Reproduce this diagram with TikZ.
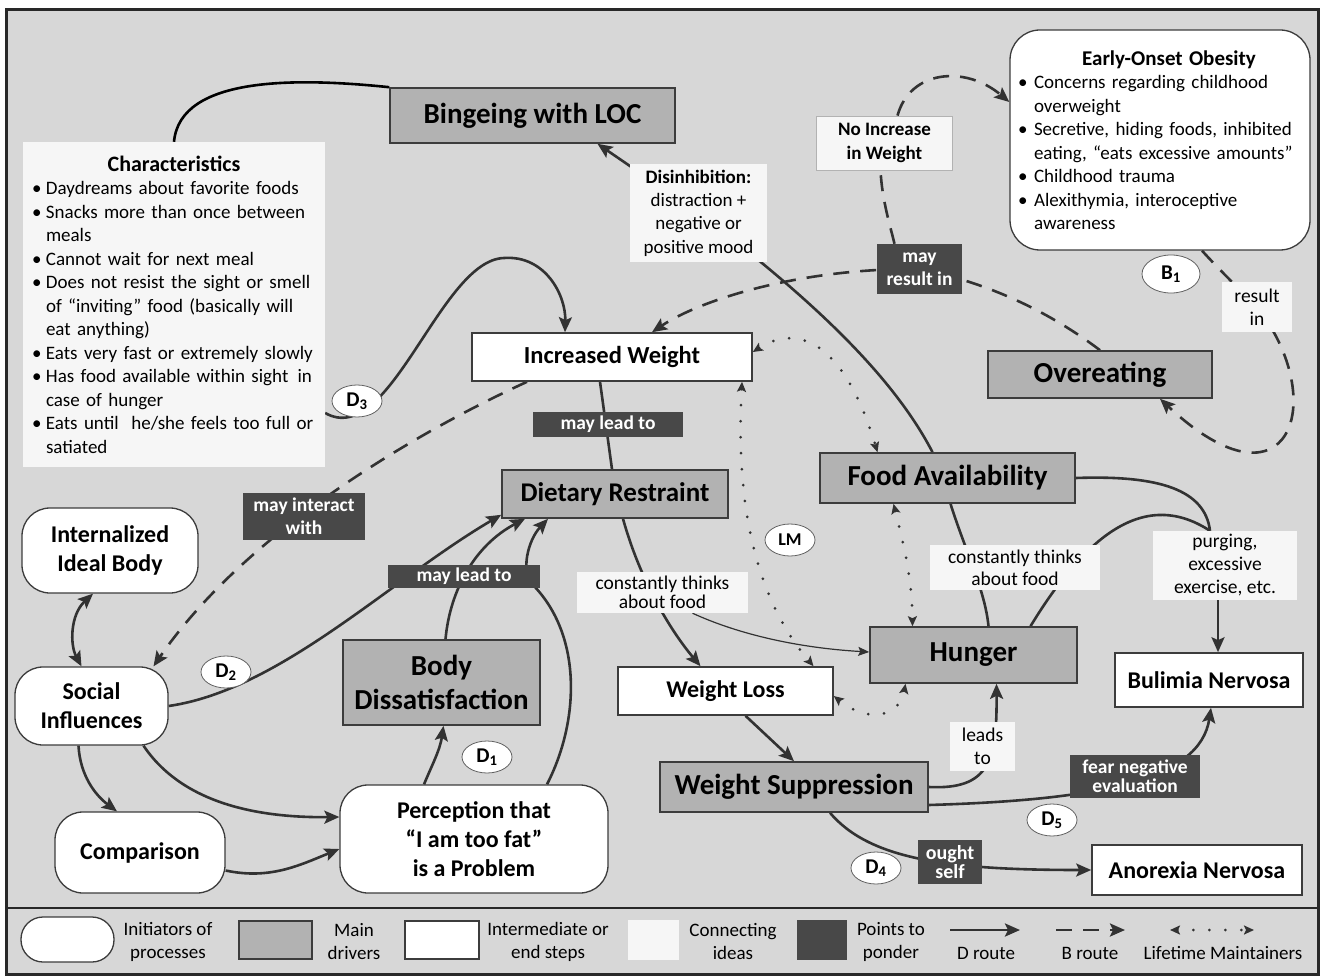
\documentclass[tikz,border=0pt]{standalone}
\usepackage{fontspec}
\setmainfont{Carlito}
\usetikzlibrary{arrows.meta,shapes.geometric}
\pgfdeclarelayer{back}
\pgfdeclarelayer{edges}
\pgfsetlayers{back,edges,main}
\definecolor{bgc}{RGB}{215,215,215}
\definecolor{mainc}{RGB}{178,178,178}
\definecolor{pondc}{RGB}{72,72,72}
\definecolor{edgec}{RGB}{60,60,60}
\definecolor{linec}{RGB}{50,50,50}
\definecolor{connc}{RGB}{246,246,246}
\definecolor{framec}{RGB}{40,40,40}
\newcommand{\bitem}[2][14pt]{\par\noindent\hangindent=#1\hangafter=1\makebox[#1][l]{\textbullet}#2}
\tikzset{
 base/.style={inner sep=0pt, align=center, text=black},
 mainbox/.style={base, draw=edgec, line width=1.6pt, fill=mainc, font=\fontsize{29}{34}\selectfont\bfseries},
 interbox/.style={base, draw=edgec, line width=1.6pt, fill=white, font=\fontsize{24}{28}\selectfont\bfseries},
 initbox/.style={base, draw=edgec, line width=1.3pt, fill=white, rounded corners=28pt, font=\fontsize{24}{29}\selectfont\bfseries},
 connbox/.style={base, fill=connc, font=\fontsize{19.5}{23}\selectfont},
 pondbox/.style={base, fill=pondc, text=white, font=\fontsize{19.5}{23}\selectfont\bfseries},
 dbadge/.style={ellipse, draw=gray!75!black, line width=0.8pt, fill=white, inner sep=0pt, minimum width=50pt, minimum height=32pt, font=\fontsize{21}{22}\selectfont\bfseries},
 legtext/.style={base, font=\fontsize{19}{23}\selectfont},
 bulletbox/.style={inner ysep=0pt, font=\fontsize{19}{23.5}\selectfont},
 plainline/.style={draw=linec, line width=2.6pt},
 droute/.style={plainline, -{Stealth[length=15pt,width=13pt,inset=3pt]}},
 broute/.style={plainline, dash pattern=on 16pt off 11pt, -{Stealth[length=15pt,width=13pt,inset=3pt]}},
 lmroute/.style={draw=linec, line width=3pt, line cap=round, dash pattern=on 0pt off 16pt, {Stealth[length=10pt,width=9pt,inset=2pt]}-{Stealth[length=10pt,width=9pt,inset=2pt]}},
 thinarrow/.style={draw=linec, line width=1.2pt, -{Stealth[length=11pt,width=9pt,inset=2pt]}},
}
\begin{document}
\begin{tikzpicture}[x=1pt,y=-1pt]
\useasboundingbox (0,0) rectangle (1322,976);
\begin{pgfonlayer}{back}
\fill[white] (0,0) rectangle (1322,976);
\draw[framec, line width=3pt, fill=bgc] (6,10) rectangle (1318,974);
\draw[framec, line width=2pt] (6,908) -- (1318,908);
\end{pgfonlayer}

% ---------- nodes ----------
\node[mainbox, minimum width=285pt, minimum height=55pt] (bing) at (532.5,115.5) {Bingeing with LOC};
\node[bulletbox, fill=connc, inner xsep=9pt, text width=284pt, minimum height=325pt] (char) at (174,304.5) {\raggedright
{\centering\bfseries\fontsize{22}{23.5}\selectfont Characteristics\par}
\bitem{Daydreams about favorite foods}
\bitem{Snacks more than once between\newline meals}
\bitem{Cannot wait for next meal}
\bitem{Does not resist the sight or smell\newline of “inviting” food (basically will\newline eat anything)}
\bitem{Eats very fast or extremely slowly}
\bitem{Has food available within sight\hspace{0.15em} in\newline case of hunger}
\bitem{Eats until\ \ he/she feels too full or\newline satiated}\par};
\node[connbox, minimum width=137pt, minimum height=98pt, font=\fontsize{19}{23.3}\selectfont] (dis) at (698.5,213) {\textbf{Disinhibition:}\\distraction +\\negative or\\positive mood};
\node[base, draw=gray!60, line width=0.8pt, fill=connc, minimum width=136pt, minimum height=54pt, font=\fontsize{19}{23.5}\selectfont\bfseries] (noinc) at (884.5,143) {No Increase\\in Weight};
\node[bulletbox, draw=edgec, line width=1.3pt, fill=white, rounded corners=30pt, inner xsep=8pt, text width=284pt, minimum height=220pt] (eoo) at (1160,140) {\raggedright
{\centering\bfseries\fontsize{21}{23.5}\selectfont\hspace*{18pt}Early-Onset Obesity\par}
\bitem[16pt]{Concerns regarding childhood\newline overweight}
\bitem[16pt]{Secretive, hiding foods, inhibited\newline eating, “eats excessive amounts”}
\bitem[16pt]{Childhood trauma}
\bitem[16pt]{Alexithymia, interoceptive\newline awareness}\par};
\node[pondbox, minimum width=85pt, minimum height=50pt] (mri) at (919.5,269) {may\\result in};
\node[dbadge, minimum width=58pt, minimum height=38pt] (b1) at (1171,274) {B\textsubscript{1}};
\node[connbox, minimum width=70pt, minimum height=50pt] (resin) at (1257,307) {result\\in};
\node[mainbox, minimum width=224pt, minimum height=47pt] (over) at (1100,374.5) {Overeating};
\node[interbox, minimum width=280pt, minimum height=48pt, font=\fontsize{24.5}{28}\selectfont\bfseries] (iw) at (612,357) {Increased Weight};
\node[dbadge] (d3) at (357,401) {D\textsubscript{3}};
\node[pondbox, minimum width=150pt, minimum height=25pt] (mlt1) at (608,424.5) {may lead to};
\node[mainbox, minimum width=226pt, minimum height=48pt, font=\fontsize{27}{30}\selectfont\bfseries] (dr) at (615,494) {Dietary Restraint};
\node[pondbox, minimum width=122pt, minimum height=47pt] (mix) at (304,516.5) {may interact\\with};
\node[initbox, minimum width=176pt, minimum height=85pt] (ideal) at (110,550.5) {Internalized\\Ideal Body};
\node[initbox, minimum width=153pt, minimum height=78pt] (social) at (91.5,706) {Social\\Influences};
\node[initbox, minimum width=170pt, minimum height=81pt] (comp) at (140,852.5) {Comparison};
\node[initbox, minimum width=268pt, minimum height=108pt] (perc) at (474,839) {Perception that\\“I am too fat”\\is a Problem};
\node[mainbox, minimum width=197pt, minimum height=85pt] (body) at (441.5,682.5) {Body\\Dissatisfaction};
\node[dbadge] (d2) at (226,672) {D\textsubscript{2}};
\node[dbadge] (d1) at (487,757) {D\textsubscript{1}};
\node[pondbox, minimum width=152pt, minimum height=23pt] (mlt2) at (464,576.5) {may lead to};
\node[connbox, minimum width=171pt, minimum height=41pt, font=\fontsize{19.5}{19.5}\selectfont] (ctl) at (662.5,592.5) {constantly thinks\\about food};
\node[interbox, minimum width=215pt, minimum height=48pt] (wl) at (725.5,691) {Weight Loss};
\node[mainbox, minimum width=268pt, minimum height=50pt] (ws) at (794,787) {Weight Suppression};
\node[mainbox, minimum width=207pt, minimum height=56pt] (hun) at (973.5,655) {Hunger};
\node[connbox, minimum width=65pt, minimum height=49pt] (leads) at (982.5,746.5) {leads\\to};
\node[mainbox, minimum width=255pt, minimum height=50pt] (fa) at (947.5,478) {Food Availability};
\node[connbox, minimum width=170pt, minimum height=45pt, font=\fontsize{19.5}{22}\selectfont] (ctr) at (1015,567.5) {constantly thinks\\about food};
\node[connbox, minimum width=144pt, minimum height=69pt] (purg) at (1225,565.5) {purging,\\excessive\\exercise, etc.};
\node[interbox, minimum width=188pt, minimum height=54pt] (bn) at (1209,680) {Bulimia Nervosa};
\node[pondbox, minimum width=130pt, minimum height=43pt, font=\fontsize{19.5}{19}\selectfont\bfseries] (fear) at (1135,776.5) {fear negative\\evaluation};
\node[dbadge] (d5) at (1052,820) {D\textsubscript{5}};
\node[pondbox, minimum width=64pt, minimum height=44pt, font=\fontsize{20}{19.5}\selectfont\bfseries] (ought) at (950,862) {ought\\self};
\node[dbadge] (d4) at (876,868) {D\textsubscript{4}};
\node[interbox, minimum width=210pt, minimum height=50pt] (an) at (1197,870) {Anorexia Nervosa};
\node[dbadge, font=\fontsize{18}{20}\selectfont\bfseries] (lm) at (790,540) {LM};

% ---------- legend ----------
\node[initbox, rounded corners=22pt, minimum width=93pt, minimum height=45pt] (lg1) at (67.5,939.5) {};
\node[legtext] (lt1) at (168,941.5) {Initiators of\\processes};
\node[mainbox, minimum width=73pt, minimum height=38pt] (lg2) at (275.5,940) {};
\node[legtext] (lt2) at (354,941.5) {Main\\drivers};
\node[interbox, minimum width=74pt, minimum height=38pt] (lg3) at (442,940) {};
\node[legtext] (lt3) at (548,941.5) {Intermediate or\\end steps};
\node[connbox, minimum width=51pt, minimum height=40pt] (lg4) at (653.5,940) {};
\node[legtext] (lt4) at (733,941.5) {Connecting\\ideas};
\node[pondbox, minimum width=50pt, minimum height=40pt] (lg5) at (822,940) {};
\node[legtext] (lt5) at (891,941.5) {Points to\\ponder};
\coordinate (la1) at (950,930); \coordinate (la2) at (1020,930);
\node[legtext] (lt6) at (986,953) {D route};
\coordinate (lb1) at (1056,930); \coordinate (lb2) at (1125,930);
\node[legtext] (lt7) at (1090,953) {B route};
\coordinate (lc1) at (1170,930); \coordinate (lc2) at (1254,930);
\node[legtext] (lt8) at (1223,953) {Lifetime Maintainers};

\coordinate (d3top) at (504,258);
\coordinate (pdr) at (533,585);

% ---------- connectors ----------
\begin{pgfonlayer}{edges}
\draw[plainline, draw=black] (char.north) .. controls (180,75) and (300,78) .. (bing.north west);
\draw[droute] ([xshift=-15pt]fa.north) .. controls (890,370) and (800,290) .. (dis.center) -- ([xshift=65pt]bing.south);
% B route
\draw[broute] (over.north) .. controls (1060,320) and (1000,285) .. (mri.center) .. controls (800,268) and (700,300) .. ([xshift=40pt]iw.north);
\draw[broute, -] ([xshift=-25pt]mri.north) .. controls (890,225) and (882,200) .. ([xshift=-4pt]noinc.south);
\draw[broute] ([xshift=13pt]noinc.north) .. controls (910,70) and (965,65) .. ([yshift=38pt]eoo.west);
\draw[broute, -] ([xshift=42pt]eoo.south) .. controls (1215,265) and (1225,275) .. (resin.center);
\draw[broute] (resin.center) .. controls (1330,400) and (1290,520) .. ([xshift=60pt]over.south);
% D3
\draw[droute] ([yshift=-108.5pt]char.east) .. controls (390,450) and (440,260) .. (d3top) .. controls (545,255) and (566,295) .. ([xshift=-47pt]iw.north);
\draw[plainline] ([xshift=-12pt]iw.south) -- ([xshift=-3pt]dr.north);
\draw[broute] ([xshift=-85pt]iw.south) .. controls (400,440) and (240,540) .. ([xshift=62pt]social.north);
% initiators
\draw[droute, {Stealth[length=15pt,width=13pt,inset=3pt]}-{Stealth[length=15pt,width=13pt,inset=3pt]}] ([xshift=-17pt]ideal.south) .. controls (70,615) and (70,645) .. ([xshift=-10pt]social.north);
\draw[droute] (social.east) .. controls (280,690) and (390,580) .. ([yshift=4pt]dr.south west);
\draw[droute] ([xshift=4pt]body.north) .. controls (450,590) and (475,545) .. ([xshift=-90pt]dr.south);
\draw[droute] ([xshift=73pt]perc.north) .. controls (580,720) and (582,635) .. (pdr) .. controls (520,572) and (528,540) .. ([xshift=-67pt]dr.south);
\draw[droute] ([xshift=-50pt]perc.north) .. controls (432,765) and (440,750) .. ([xshift=2pt]body.south);
\draw[droute] ([xshift=-13pt]social.south) .. controls (80,775) and (95,795) .. ([xshift=-23pt]comp.north);
\draw[droute] ([xshift=52pt]social.south) .. controls (180,800) and (250,818) .. ([yshift=22pt]perc.west);
\draw[droute] ([yshift=-18pt]comp.east) .. controls (270,880) and (300,865) .. ([yshift=-10pt]perc.west);
% right part
\draw[droute] ([xshift=8pt]dr.south) .. controls (640,580) and (670,630) .. ([xshift=-25pt]wl.north);
\draw[thinarrow] ([xshift=30pt]ctl.south) .. controls (740,635) and (800,648) .. ([yshift=3pt]hun.west);
\draw[droute] ([xshift=20pt]wl.south) -- (ws.north);
\draw[droute] (ws.east) .. controls (990,790) and (997,760) .. ([xshift=23pt]hun.south);
\draw[plainline] ([xshift=3pt]fa.south) .. controls (965,550) and (985,590) .. ([xshift=15pt]hun.north);
\draw[plainline] (fa.east) .. controls (1160,475) and (1205,490) .. ([xshift=-15pt]purg.north);
\draw[plainline] ([xshift=57pt]hun.north) .. controls (1080,545) and (1140,485) .. ([xshift=-15pt]purg.north);
\draw[droute] ([xshift=-7pt]purg.south) -- ([xshift=9pt]bn.north);
\draw[droute] ([yshift=-18pt]ws.east) .. controls (1100,800) and (1200,780) .. ([xshift=2pt]bn.south);
\draw[droute] ([xshift=36pt]ws.south) .. controls (870,860) and (950,870) .. (an.west);
% lifetime maintainers
\draw[lmroute] ([yshift=5pt]iw.east) .. controls (800,322) and (845,345) .. ([xshift=-70pt]fa.north);
\draw[lmroute] ([xshift=130pt]iw.south) .. controls (738,460) and (740,580) .. ([xshift=88pt]wl.north);
\draw[lmroute] ([xshift=-54pt]fa.south) .. controls (905,550) and (912,580) .. ([xshift=-61pt]hun.north);
\draw[lmroute] ([yshift=-5pt]wl.east) .. controls (870,725) and (900,715) .. ([xshift=-68pt]hun.south);
% legend arrows
\draw[droute] (la1) -- (la2);
\draw[broute] (lb1) -- (lb2);
\draw[lmroute] (lc1) -- (lc2);
\end{pgfonlayer}
\end{tikzpicture}
\end{document}
